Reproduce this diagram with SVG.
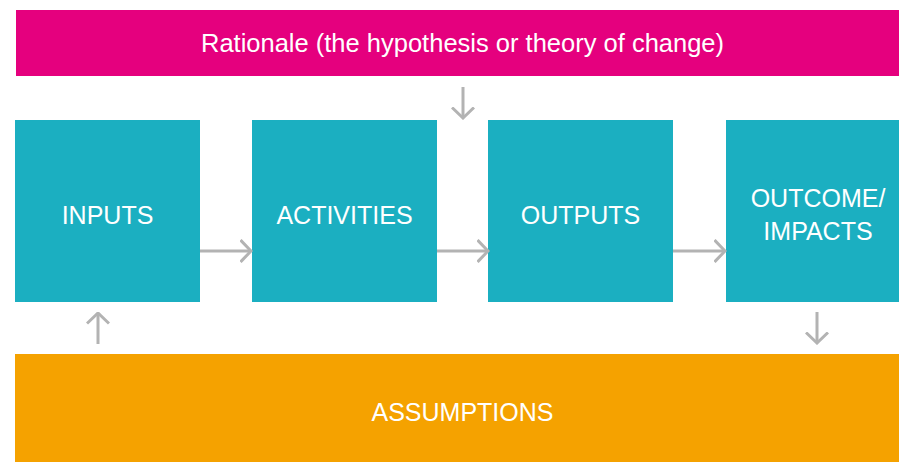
<svg xmlns="http://www.w3.org/2000/svg" width="899" height="462" viewBox="0 0 899 462">
<style>
.lbl{font-family:"Liberation Sans",Arial,sans-serif;font-size:25px;fill:#ffffff;text-anchor:middle}
.box{fill:#1BAFC1}
.conn{stroke:#B3B3B3;stroke-width:3;fill:none}
</style>
<defs>
<marker id="arr" viewBox="0 0 13 24" refX="11.5" refY="12" markerWidth="13" markerHeight="24" markerUnits="userSpaceOnUse" orient="auto">
<path d="M1,1 L11.5,12 L1,23" fill="none" stroke="#B3B3B3" stroke-width="3"/>
</marker>
</defs>
<rect width="899" height="462" fill="#ffffff"/>
<g id="rationale">
<rect x="16" y="10" width="883" height="66" fill="#E5007E"/>
<text class="lbl" x="462.5" y="52" style="font-size:25.5px">Rationale (the hypothesis or theory of change)</text>
</g>
<g id="inputs">
<rect class="box" x="15" y="120" width="185" height="182"/>
<text class="lbl" x="107.5" y="224">INPUTS</text>
</g>
<g id="activities">
<rect class="box" x="252" y="120" width="185" height="182"/>
<text class="lbl" x="344.5" y="224">ACTIVITIES</text>
</g>
<g id="outputs">
<rect class="box" x="488" y="120" width="185" height="182"/>
<text class="lbl" x="580.5" y="224">OUTPUTS</text>
</g>
<g id="outcome">
<rect class="box" x="726" y="120" width="173" height="182"/>
<text class="lbl" x="818" y="207">OUTCOME/</text>
<text class="lbl" x="818" y="240">IMPACTS</text>
</g>
<g id="assumptions">
<rect x="15" y="354" width="884" height="108" fill="#F5A200"/>
<text class="lbl" x="462.5" y="421">ASSUMPTIONS</text>
</g>
<g id="connectors">
<line class="conn" x1="463" y1="87" x2="463" y2="118" marker-end="url(#arr)"/>
<line class="conn" x1="200" y1="251" x2="251" y2="251" marker-end="url(#arr)"/>
<line class="conn" x1="437" y1="251" x2="488" y2="251" marker-end="url(#arr)"/>
<line class="conn" x1="673" y1="251" x2="725" y2="251" marker-end="url(#arr)"/>
<line class="conn" x1="98" y1="344" x2="98" y2="313" marker-end="url(#arr)"/>
<line class="conn" x1="817" y1="312" x2="817" y2="343" marker-end="url(#arr)"/>
</g>
</svg>
